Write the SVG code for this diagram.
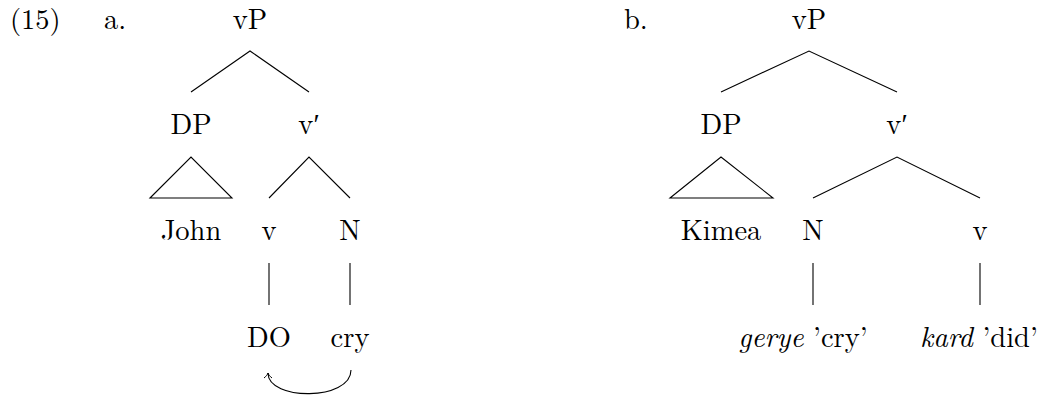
<svg xmlns="http://www.w3.org/2000/svg" width="1044" height="396" viewBox="0 0 1044 396">
<defs>
<style>
text{font-size:28.5px;fill:#000;text-anchor:middle}
.l{text-anchor:start}
.it{font-style:italic}
line,polyline,path,polygon{stroke:#000;stroke-width:1.1;fill:none}
</style>
<marker id="ah" viewBox="-6 -5 8 10" markerWidth="8" markerHeight="10" refX="0" refY="0" orient="auto" markerUnits="userSpaceOnUse">
<path d="M-5,-4 C-3,-1.5 -1.5,-0.5 0,0 C-1.5,0.5 -3,1.5 -5,4" style="stroke:#000;stroke-width:1;fill:none"/>
</marker>
</defs>
<g font-family="Latin Modern Roman, Liberation Serif, serif">
<g id="labels">
<text class="l" x="10" y="29">(15)</text>
<text class="l" x="104" y="29">a.</text>
<text class="l" x="624" y="29">b.</text>
</g>
<g id="treeA">
<g id="a-vP"><text x="250" y="29">vP</text></g>
<g id="a-DP"><text x="191" y="134">DP</text></g>
<g id="a-vbar"><text x="309" y="134">v′</text></g>
<g id="a-John"><text x="191" y="240">John</text></g>
<g id="a-v"><text x="269" y="240">v</text></g>
<g id="a-N"><text x="350" y="240">N</text></g>
<g id="a-DO"><text x="269" y="347">DO</text></g>
<g id="a-cry"><text x="350" y="347">cry</text></g>
</g>
<g id="treeB">
<g id="b-vP"><text x="809" y="29">vP</text></g>
<g id="b-DP"><text x="721" y="134">DP</text></g>
<g id="b-vbar"><text x="897" y="134">v′</text></g>
<g id="b-Kimea"><text x="721" y="240">Kimea</text></g>
<g id="b-N"><text x="813" y="240">N</text></g>
<g id="b-v"><text x="980" y="240">v</text></g>
<g id="b-gerye"><text x="803" y="347"><tspan class="it">gerye</tspan> ’cry’</text></g>
<g id="b-kard"><text x="979" y="347"><tspan class="it">kard</tspan> ’did’</text></g>
</g>
</g>
<g id="connectors">
<polyline points="191,92 250,51 309,92"/>
<polygon points="150,198 191,157 232,198"/>
<polyline points="269,198 309,157 350,198"/>
<line x1="269" y1="263" x2="269" y2="305"/>
<line x1="350" y1="263" x2="350" y2="305"/>
<path d="M351,370 C351,401 268,401 268,373" marker-end="url(#ah)"/>
<polyline points="721,92 809,51 897,92"/>
<polygon points="670,198 721,157 773,198"/>
<polyline points="813,198 897,157 980,198"/>
<line x1="813" y1="263" x2="813" y2="305"/>
<line x1="980" y1="263" x2="980" y2="305"/>
</g>
</svg>
